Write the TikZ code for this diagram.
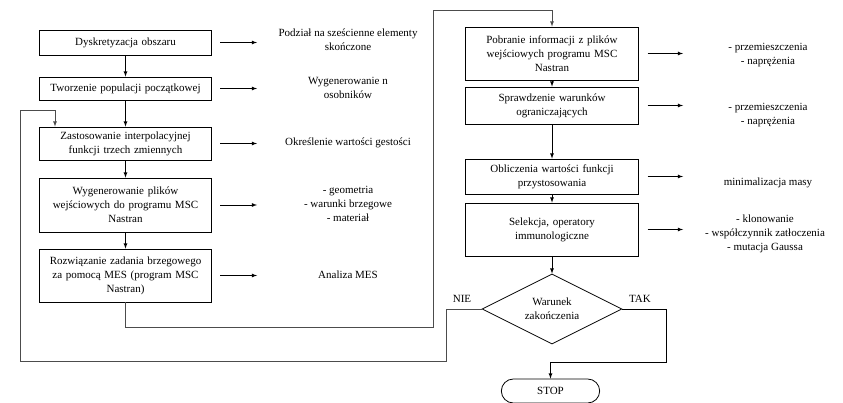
\documentclass[tikz,border=0pt]{standalone}
\usepackage{fontspec}
\setmainfont{Liberation Serif}
\usetikzlibrary{shapes.geometric,shapes.misc,calc}

\tikzset{
	krok/.style={draw,thick,align=center,text width=166pt,font=\fontsize{11}{14}\selectfont},
	opis/.style={align=center,font=\fontsize{11}{14}\selectfont},
	strz/.style={-latex,thick}
}

\begin{document}
\begin{tikzpicture}[x=1pt,y=-1pt]
		\useasboundingbox (0,0) rectangle (843,403);
		\coordinate (lend) at (257,0);
		\coordinate (rend) at (683,0);
		
		\node[krok,minimum height=25pt] (b1) at (125.5,42.5) {Dyskretyzacja obszaru};
		\node[krok,minimum height=23pt] (b2) at (125.5,88.5) {Tworzenie populacji początkowej};
		\node[krok,minimum height=33pt] (b3) at (125.5,143.5) {Zastosowanie interpolacyjnej\\funkcji trzech zmiennych};
		\node[krok,minimum height=54pt] (b4) at (125.5,205) {Wygenerowanie plików\\wejściowych do programu MSC\\Nastran};
		\node[krok,minimum height=53pt] (b5) at (125.5,275.5) {Rozwiązanie zadania brzegowego\\za pomocą MES (program MSC\\Nastran)};
		
		\node[krok,minimum height=53pt] (r1) at (552,53.5) {Pobranie informacji z plików\\wejściowych programu MSC\\Nastran};
		\node[krok,minimum height=37pt] (r2) at (552,105.5) {Sprawdzenie warunków\\ograniczających};
		\node[krok,minimum height=35pt] (r3) at (552,176.5) {Obliczenia wartości funkcji\\przystosowania};
		\node[krok,minimum height=53pt] (r4) at (552,229.5) {Selekcja, operatory\\immunologiczne};
		\node[draw,thick,diamond,aspect=2,inner sep=0pt,minimum width=140pt,minimum height=70pt,opis] (dec) at (552,309) {Warunek\\zakończenia};
		\node[draw,thick,rounded rectangle,minimum width=105pt,minimum height=24pt,opis] (stop) at (550.5,391) {STOP};
		
		\node[opis] (o1) at (348,40) {Podział na sześcienne elementy\\skończone};
		\node[opis] (o2) at (348,88) {Wygenerowanie n\\osobników};
		\node[opis] (o3) at (348,143) {Określenie wartości gestości};
		\node[opis] (o4) at (348,204) {- geometria\\- warunki brzegowe\\- materiał};
		\node[opis] (o5) at (348,275) {Analiza MES};
		\node[opis] (p1) at (768,55) {- przemieszczenia\\- naprężenia};
		\node[opis] (p2) at (768,115) {- przemieszczenia\\- naprężenia};
		\node[opis] (p3) at (768,183) {minimalizacja masy};
		\node[opis] (p4) at (765,234) {- klonowanie\\- współczynnik zatłoczenia\\- mutacja Gaussa};
		
		\draw[strz] (b1) -- (b2);
		\draw[strz] (b2) -- (b3);
		\draw[strz] (b3) -- (b4);
		\draw[strz] (b4) -- (b5);
		\draw[strz] (r1) -- (r2);
		\draw[strz] (r2) -- (r3);
		\draw[strz] (r3) -- (r4);
		\draw[strz] (r4) -- (dec);
		
		\foreach \b in {b1,b2,b3,b4,b5}
			\draw[strz] ([xshift=8pt]\b.east) -- (\b.east -| lend);
		\foreach \b in {r1,r2,r3,r4}
			\draw[strz] ([xshift=9pt]\b.east) -- (\b.east -| rend);
		
		\draw[strz,black!70] (b5.south) -- ++(0,25) -| (433,10) -| (r1.north);
		\draw[strz,black!70] (dec.west) -- ++(-35,0) |- (20,361) |- (55,110) -- ([xshift=-70.5pt]b3.north);
		\draw[strz] (dec.east) -- ++(44,0) |- ($(stop.north)+(0,-16)$) -- (stop.north);
		
		\node[opis,anchor=south] (nie) at (462,306) {NIE};
		\node[opis,anchor=south] (tak) at (640,306) {TAK};
\end{tikzpicture}
\end{document}
